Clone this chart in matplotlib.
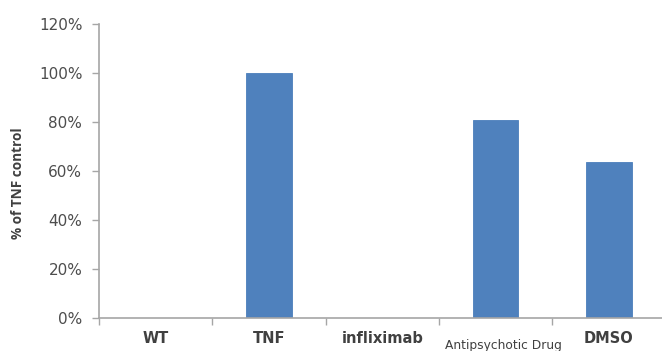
import matplotlib
matplotlib.use("Agg")
import matplotlib.pyplot as plt
from matplotlib.ticker import PercentFormatter

# Response relative to TNF control
categories = ["WT", "TNF", "infliximab", "Antipsychotic Drug", "DMSO"]
values = [0.0, 1.00, 0.0, 0.81, 0.635]
y_ticks = [0.0, 0.2, 0.4, 0.6, 0.8, 1.0, 1.2]

plt.rcParams["font.family"] = ["DejaVu Sans"]

fig = plt.figure(figsize=(6.62, 3.51), dpi=100)
ax = fig.add_axes([99 / 662, 33 / 351, 563 / 662, 294 / 351])

x = list(range(len(categories)))
nonzero = [(xi, v) for xi, v in zip(x, values) if v > 0]
ax.bar([p[0] for p in nonzero], [p[1] for p in nonzero], width=0.40,
       color="#4F81BD", edgecolor="#4A7EBB", linewidth=0.6, zorder=2)

ax.set_xlim(-0.5, -0.5 + 563 / 113.3)
ax.set_ylim(0, 1.2)
ax.set_yticks(y_ticks)
ax.yaxis.set_major_formatter(PercentFormatter(1.0, decimals=0))

axis_col = "#A6A6A6"
for side in ("top", "right"):
    ax.spines[side].set_visible(False)
for side in ("left", "bottom"):
    ax.spines[side].set_color(axis_col)
    ax.spines[side].set_linewidth(1.2)

ax.tick_params(axis="y", direction="out", length=5, width=1.0, color=axis_col,
               labelsize=11, labelcolor="#4D4D4D", pad=7)

# category boundaries carry the ticks; labels sit at centres
ax.set_xticks([i - 0.5 for i in range(len(categories))])
ax.set_xticklabels([])
ax.tick_params(axis="x", direction="out", length=5, width=1.0, color=axis_col)

for xi, name in zip(x, categories):
    if name == "Antipsychotic Drug":
        ax.text(xi + 0.07, -0.092, name, ha="center", va="center",
                transform=ax.get_xaxis_transform(), fontsize=8.8,
                color="#404040")
    else:
        ax.text(xi, -0.071, name, ha="center", va="center",
                transform=ax.get_xaxis_transform(), fontsize=10.5,
                fontweight="bold", color="#404040")

fig.text(18 / 662, 1 - 183 / 351, "% of TNF control", rotation=90,
         ha="center", va="center", fontsize=9.8, fontweight="bold",
         color="#404040", family=["Open Sans", "DejaVu Sans"])

fig.savefig("out.png", dpi=100)
